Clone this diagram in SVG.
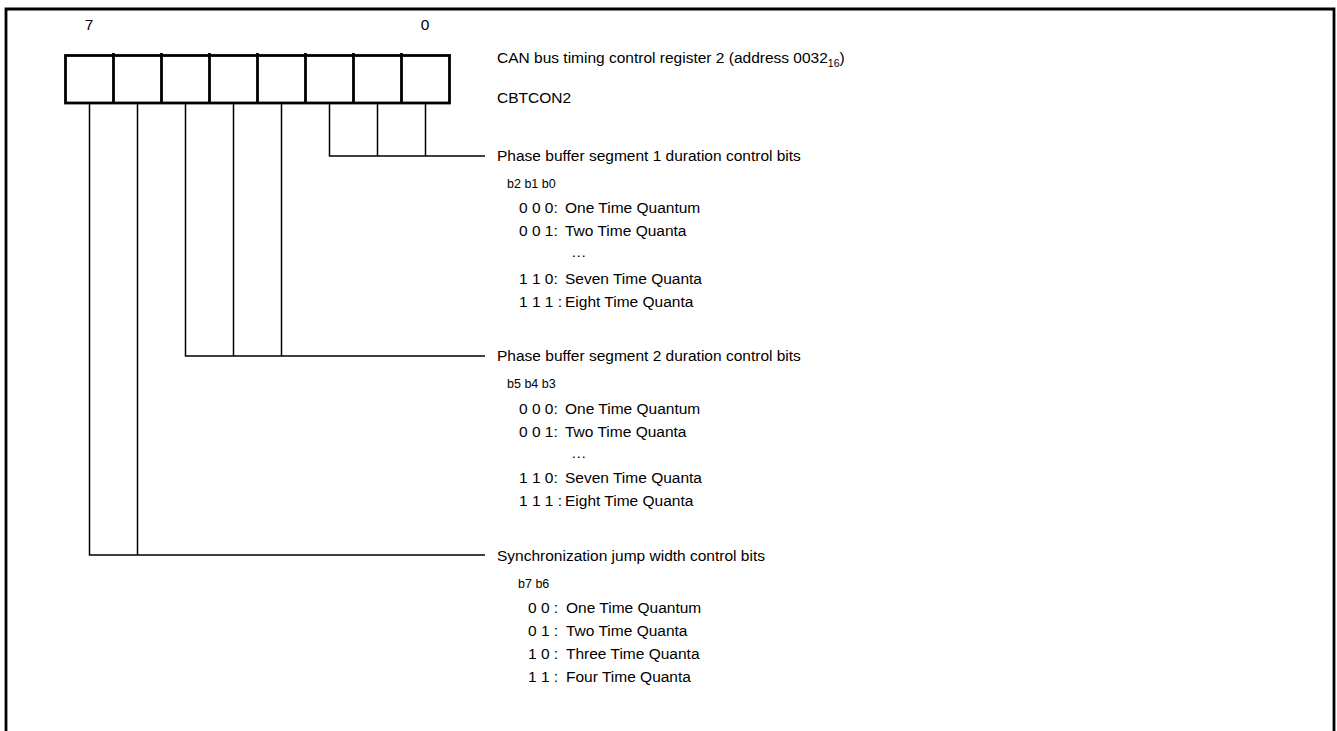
<svg xmlns="http://www.w3.org/2000/svg" width="1337" height="731" viewBox="0 0 1337 731">
<style>
  text { font-family: "Liberation Sans", Arial, sans-serif; fill: #000; }
  .t { font-size: 15.5px; }
  .h { font-size: 12.5px; }
  .n { font-size: 15.5px; }
  .thin { stroke: #000; stroke-width: 1.5; fill: none; }
  .thick { stroke: #000; stroke-width: 2.8; fill: none; }
</style>
<rect x="0" y="0" width="1337" height="731" fill="#fff"/>
<path class="thick" d="M6,731 V9 H1334 V731" stroke-width="2.6"/>

<g id="register">
  <rect class="thick" x="65.5" y="55.5" width="384" height="47.5"/>
  <path class="thick" d="M113.5,53 V103 M161.5,53 V103 M209.5,53 V103 M257.5,53 V103 M305.5,53 V103 M353.5,53 V103 M401.5,53 V103"/>
  <text class="n" x="89" y="30" text-anchor="middle">7</text>
  <text class="n" x="425" y="30" text-anchor="middle">0</text>
</g>

<g id="title">
  <text class="t" x="497" y="62.5">CAN bus timing control register 2 (address 0032<tspan font-size="10.5" dy="4">16</tspan><tspan dy="-4">)</tspan></text>
  <text class="t" x="497" y="102.5">CBTCON2</text>
</g>

<g id="connectors">
  <path class="thin" d="M329.5,103 V156 H485 M377.5,103 V156 M425.5,103 V156"/>
  <path class="thin" d="M185.5,103 V356 H485 M233.5,103 V356 M281.5,103 V356"/>
  <path class="thin" d="M89.5,103 V555 H485 M137.5,103 V555"/>
</g>

<g id="pbs1">
  <text class="t" x="497" y="160.5">Phase buffer segment 1 duration control bits</text>
  <text class="h" x="507" y="187.5">b2 b1 b0</text>
  <text class="t" x="519" y="212.5">0 0 0:<tspan x="565">One Time Quantum</tspan></text>
  <text class="t" x="519" y="235.5">0 0 1:<tspan x="565">Two Time Quanta</tspan></text>
  <text class="t" x="571" y="257">…</text>
  <text class="t" x="519" y="283.5">1 1 0:<tspan x="565">Seven Time Quanta</tspan></text>
  <text class="t" x="519" y="306.5">1 1 1 :<tspan x="565">Eight Time Quanta</tspan></text>
</g>

<g id="pbs2">
  <text class="t" x="497" y="360.5">Phase buffer segment 2 duration control bits</text>
  <text class="h" x="507" y="387.5">b5 b4 b3</text>
  <text class="t" x="519" y="413.5">0 0 0:<tspan x="565">One Time Quantum</tspan></text>
  <text class="t" x="519" y="436.5">0 0 1:<tspan x="565">Two Time Quanta</tspan></text>
  <text class="t" x="571" y="458">…</text>
  <text class="t" x="519" y="482.5">1 1 0:<tspan x="565">Seven Time Quanta</tspan></text>
  <text class="t" x="519" y="505.5">1 1 1 :<tspan x="565">Eight Time Quanta</tspan></text>
</g>

<g id="sjw">
  <text class="t" x="497" y="560.5">Synchronization jump width control bits</text>
  <text class="h" x="518" y="587.5">b7 b6</text>
  <text class="t" x="528" y="612.5">0 0 :<tspan x="566">One Time Quantum</tspan></text>
  <text class="t" x="528" y="635.5">0 1 :<tspan x="566">Two Time Quanta</tspan></text>
  <text class="t" x="528" y="658.5">1 0 :<tspan x="566">Three Time Quanta</tspan></text>
  <text class="t" x="528" y="681.5">1 1 :<tspan x="566">Four Time Quanta</tspan></text>
</g>
</svg>
